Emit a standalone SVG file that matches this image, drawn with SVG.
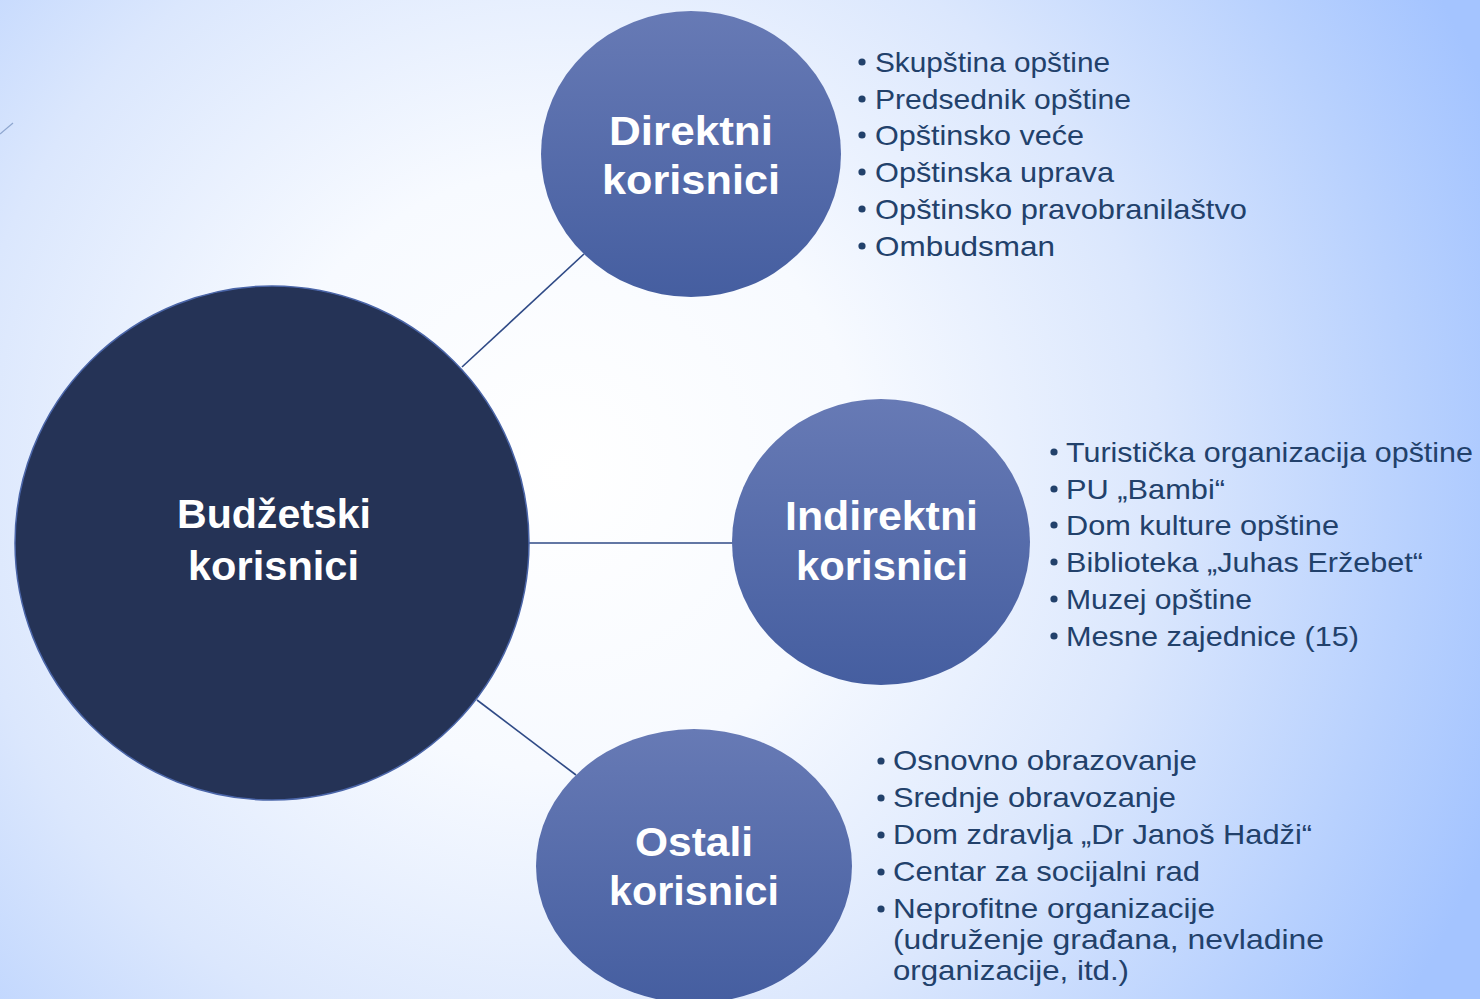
<svg xmlns="http://www.w3.org/2000/svg" width="1480" height="999" viewBox="0 0 1480 999">
  <defs>
    <radialGradient id="bg" gradientUnits="userSpaceOnUse" cx="560" cy="470" r="1000">
      <stop offset="0" stop-color="#ffffff"/>
      <stop offset="0.3" stop-color="#f7faff"/>
      <stop offset="0.6" stop-color="#dbe7fd"/>
      <stop offset="0.85" stop-color="#b8d1fe"/>
      <stop offset="1" stop-color="#a4c4ff"/>
    </radialGradient>
    <linearGradient id="node" x1="0" y1="0" x2="0" y2="1">
      <stop offset="0" stop-color="#677ab5"/>
      <stop offset="1" stop-color="#455ea0"/>
    </linearGradient>
    <style>
      .title { font-family: "Liberation Sans", "DejaVu Sans", sans-serif; font-weight: bold; font-size: 41px; fill: #ffffff; }
      .item { font-family: "Liberation Sans", "DejaVu Sans", sans-serif; font-size: 28px; fill: #22416b; }
      .bullet { fill: #22416b; }
      .conn { stroke: #2f4a86; stroke-width: 1.6; fill: none; }
      .small { fill: url(#node); }
    </style>
  </defs>

  <rect x="0" y="0" width="1480" height="999" fill="url(#bg)"/>
  <line x1="0" y1="134" x2="13" y2="123" stroke="#8ea6cf" stroke-width="1.2"/>

  <g id="connectors">
    <line class="conn" x1="462" y1="367" x2="584" y2="254"/>
    <line class="conn" x1="529" y1="543" x2="733" y2="543"/>
    <line class="conn" x1="477" y1="700" x2="576" y2="775"/>
  </g>

  <g id="node-budzetski">
    <circle cx="272" cy="543" r="257" fill="#253356" stroke="#4a65a8" stroke-width="1.5"/>
    <text class="title" x="177" y="528" textLength="194" lengthAdjust="spacingAndGlyphs">Budžetski</text>
    <text class="title" x="188" y="580" textLength="171" lengthAdjust="spacingAndGlyphs">korisnici</text>
  </g>

  <g id="node-direktni">
    <ellipse class="small" cx="691" cy="154" rx="150" ry="143"/>
    <text class="title" x="609" y="145" textLength="164" lengthAdjust="spacingAndGlyphs">Direktni</text>
    <text class="title" x="602" y="194" textLength="178" lengthAdjust="spacingAndGlyphs">korisnici</text>
  </g>

  <g id="node-indirektni">
    <ellipse class="small" cx="881" cy="542" rx="149" ry="143"/>
    <text class="title" x="785" y="530" textLength="193" lengthAdjust="spacingAndGlyphs">Indirektni</text>
    <text class="title" x="796" y="580" textLength="172" lengthAdjust="spacingAndGlyphs">korisnici</text>
  </g>

  <g id="node-ostali">
    <ellipse class="small" cx="694" cy="866" rx="158" ry="137"/>
    <text class="title" x="635" y="856" textLength="118" lengthAdjust="spacingAndGlyphs">Ostali</text>
    <text class="title" x="609" y="905" textLength="170" lengthAdjust="spacingAndGlyphs">korisnici</text>
  </g>

  <g id="list-direktni">
    <circle class="bullet" cx="862" cy="62" r="3.6"/>
    <circle class="bullet" cx="862" cy="99" r="3.6"/>
    <circle class="bullet" cx="862" cy="135" r="3.6"/>
    <circle class="bullet" cx="862" cy="172" r="3.6"/>
    <circle class="bullet" cx="862" cy="209" r="3.6"/>
    <circle class="bullet" cx="862" cy="246" r="3.6"/>
    <text class="item" x="875" y="72" textLength="235" lengthAdjust="spacingAndGlyphs">Skupština opštine</text>
    <text class="item" x="875" y="109" textLength="256" lengthAdjust="spacingAndGlyphs">Predsednik opštine</text>
    <text class="item" x="875" y="145" textLength="209" lengthAdjust="spacingAndGlyphs">Opštinsko veće</text>
    <text class="item" x="875" y="182" textLength="239" lengthAdjust="spacingAndGlyphs">Opštinska uprava</text>
    <text class="item" x="875" y="219" textLength="372" lengthAdjust="spacingAndGlyphs">Opštinsko pravobranilaštvo</text>
    <text class="item" x="875" y="256" textLength="180" lengthAdjust="spacingAndGlyphs">Ombudsman</text>
  </g>

  <g id="list-indirektni">
    <circle class="bullet" cx="1054" cy="452" r="3.6"/>
    <circle class="bullet" cx="1054" cy="489" r="3.6"/>
    <circle class="bullet" cx="1054" cy="525" r="3.6"/>
    <circle class="bullet" cx="1054" cy="562" r="3.6"/>
    <circle class="bullet" cx="1054" cy="599" r="3.6"/>
    <circle class="bullet" cx="1054" cy="636" r="3.6"/>
    <text class="item" x="1066" y="462" textLength="407" lengthAdjust="spacingAndGlyphs">Turistička organizacija opštine</text>
    <text class="item" x="1066" y="499" textLength="159" lengthAdjust="spacingAndGlyphs">PU „Bambi“</text>
    <text class="item" x="1066" y="535" textLength="273" lengthAdjust="spacingAndGlyphs">Dom kulture opštine</text>
    <text class="item" x="1066" y="572" textLength="357" lengthAdjust="spacingAndGlyphs">Biblioteka „Juhas Eržebet“</text>
    <text class="item" x="1066" y="609" textLength="186" lengthAdjust="spacingAndGlyphs">Muzej opštine</text>
    <text class="item" x="1066" y="646" textLength="293" lengthAdjust="spacingAndGlyphs">Mesne zajednice (15)</text>
  </g>

  <g id="list-ostali">
    <circle class="bullet" cx="881" cy="761" r="3.6"/>
    <circle class="bullet" cx="881" cy="798" r="3.6"/>
    <circle class="bullet" cx="881" cy="835" r="3.6"/>
    <circle class="bullet" cx="881" cy="872" r="3.6"/>
    <circle class="bullet" cx="881" cy="909" r="3.6"/>
    <text class="item" x="893" y="770" textLength="304" lengthAdjust="spacingAndGlyphs">Osnovno obrazovanje</text>
    <text class="item" x="893" y="807" textLength="283" lengthAdjust="spacingAndGlyphs">Srednje obravozanje</text>
    <text class="item" x="893" y="844" textLength="419" lengthAdjust="spacingAndGlyphs">Dom zdravlja „Dr Janoš Hadži“</text>
    <text class="item" x="893" y="881" textLength="307" lengthAdjust="spacingAndGlyphs">Centar za socijalni rad</text>
    <text class="item" x="893" y="918" textLength="322" lengthAdjust="spacingAndGlyphs">Neprofitne organizacije</text>
    <text class="item" x="893" y="949" textLength="431" lengthAdjust="spacingAndGlyphs">(udruženje građana, nevladine</text>
    <text class="item" x="893" y="980" textLength="236" lengthAdjust="spacingAndGlyphs">organizacije, itd.)</text>
  </g>
</svg>
